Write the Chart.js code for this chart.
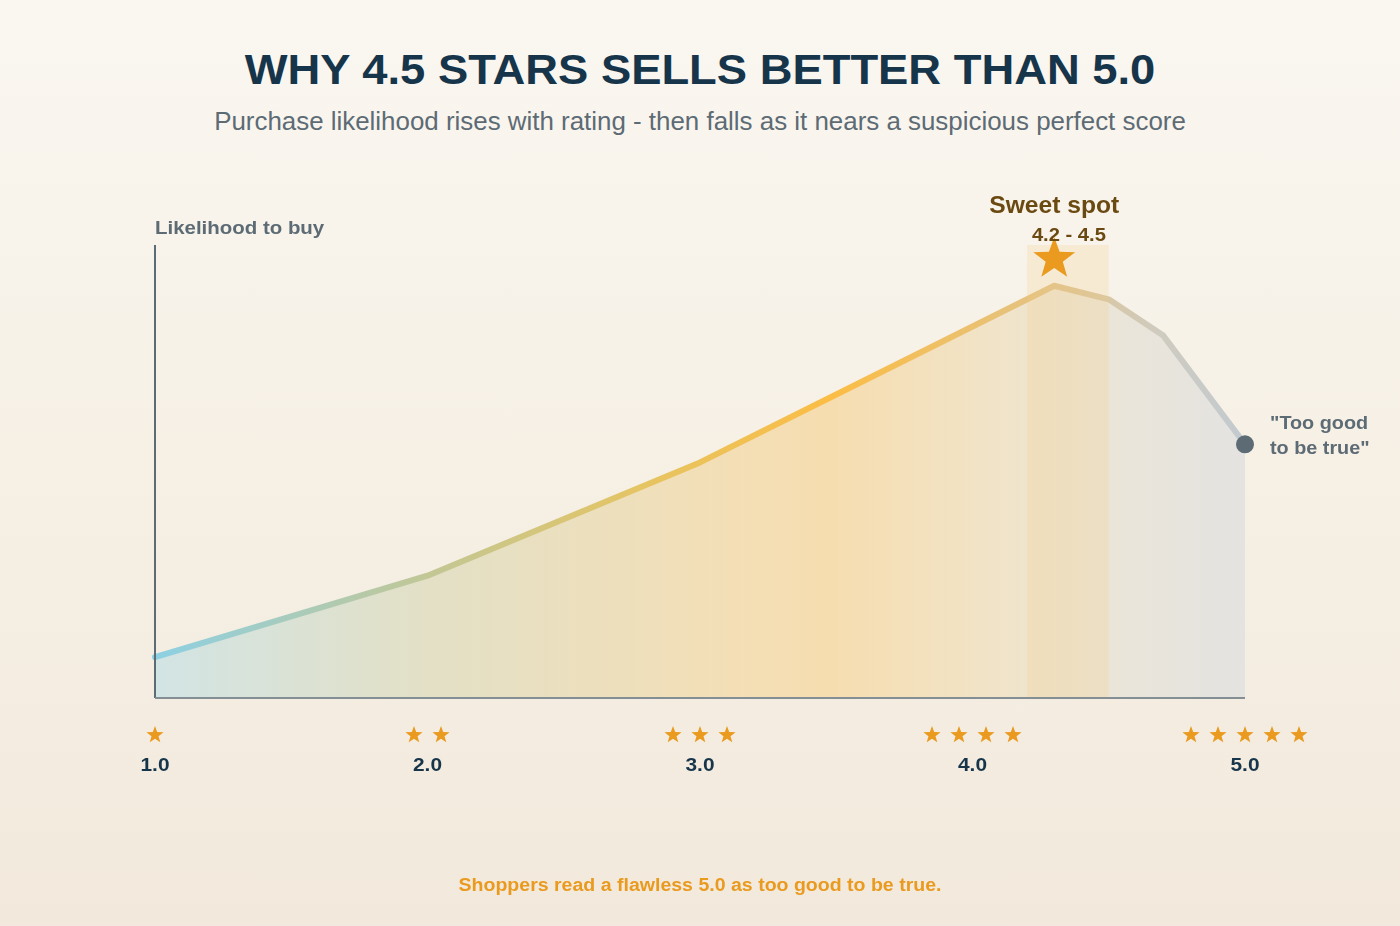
<!DOCTYPE html>
<html>
<head>
<meta charset="utf-8">
<script src="https://cdn.jsdelivr.net/npm/chart.js@4/dist/chart.umd.min.js"></script>
<style>
    html, body {
        margin: 0;
        padding: 0;
        width: 1400px;
        height: 926px;
        overflow: hidden;
        font-family: "Liberation Sans", Arial, sans-serif;
        background: linear-gradient(180deg, #faf7f1 0%, #f6f0e5 50%, #f2e9dc 100%);
    }
    .title, .subtitle, .footer {
        position: absolute;
        left: 0; width: 1400px;
        text-align: center;
        transform-origin: 700px 50%;
    }
    .title {
        top: 45px;
        line-height: 50px;
        font-size: 42px;
        font-weight: bold;
        color: #16354a;
        transform: scaleX(1.08);
    }
    .subtitle {
        top: 105px;
        line-height: 32px;
        font-size: 25px;
        color: #5d6b75;
        transform: scaleX(1.036);
    }
    .footer {
        top: 873px;
        line-height: 24px;
        font-size: 18px;
        font-weight: bold;
        color: #e99a1f;
        transform: scaleX(1.085);
    }
    #ratingChart {
        position: absolute;
        left: 0; top: 0;
    }
</style>
</head>
<body>
<div class="title">WHY 4.5 STARS SELLS BETTER THAN 5.0</div>
<div class="subtitle">Purchase likelihood rises with rating - then falls as it nears a suspicious perfect score</div>
<canvas id="ratingChart" width="1400" height="926"></canvas>
<div class="footer">Shoppers read a flawless 5.0 as too good to be true.</div>

<script>
// Star rating vs. likelihood to buy
const ratings = [1.0, 2.0, 3.0, 3.5, 4.0, 4.3, 4.5, 4.7, 5.0];
const likelihood = [9, 27, 52, 67, 82, 91, 88, 80, 56];
const tickValues = [1, 2, 3, 4, 5];
const tickLabels = ['1.0', '2.0', '3.0', '4.0', '5.0'];
const sweetSpot = [4.2, 4.5];
const peakRating = 4.3;

const FONT = '"Liberation Sans", Arial, sans-serif';

function drawStar(ctx, cx, cy, outer, inner) {
    ctx.beginPath();
    for (let i = 0; i < 10; i++) {
        const r = i % 2 === 0 ? outer : inner;
        const a = -Math.PI / 2 + i * Math.PI / 5;
        const x = cx + r * Math.cos(a);
        const y = cy + r * Math.sin(a);
        if (i === 0) ctx.moveTo(x, y); else ctx.lineTo(x, y);
    }
    ctx.closePath();
    ctx.fill();
}

// the reference type is a bit wider than Liberation Sans, so stretch it around the anchor
function wideText(ctx, text, x, y, stretch) {
    ctx.save();
    ctx.translate(x, y);
    ctx.scale(stretch, 1);
    ctx.fillText(text, 0, 0);
    ctx.restore();
}

function lineGradient(context) {
    const area = context.chart.chartArea;
    if (!area) return '#fbbd45';
    const g = context.chart.ctx.createLinearGradient(area.left, 0, area.right, 0);
    g.addColorStop(0, '#8dd0e3');
    g.addColorStop(0.25, '#c2c795');
    g.addColorStop(0.45, '#e6c462');
    g.addColorStop(0.62, '#fbbd45');
    g.addColorStop(0.8, '#e5c27f');
    g.addColorStop(0.92, '#cfcbbf');
    g.addColorStop(1, '#c2cad0');
    return g;
}

function fillGradient(context) {
    const area = context.chart.chartArea;
    if (!area) return 'rgba(0,0,0,0)';
    const g = context.chart.ctx.createLinearGradient(area.left, 0, area.right, 0);
    g.addColorStop(0, '#d2e4e4');
    g.addColorStop(0.25, '#e3e0c6');
    g.addColorStop(0.5, '#f2dfb8');
    g.addColorStop(0.62, '#f6ddb0');
    g.addColorStop(0.76, '#f1e3c6');
    g.addColorStop(0.87, '#ebe5d8');
    g.addColorStop(1, '#e4e3e1');
    return g;
}

const decorations = {
    id: 'decorations',
    afterDatasetsDraw(chart) {
        const ctx = chart.ctx;
        const area = chart.chartArea;
        const x = chart.scales.x;
        const y = chart.scales.y;
        ctx.save();

        // sweet spot band
        const bx1 = x.getPixelForValue(sweetSpot[0]);
        const bx2 = x.getPixelForValue(sweetSpot[1]);
        ctx.fillStyle = 'rgba(245, 200, 120, 0.2)';
        ctx.fillRect(bx1, area.top, bx2 - bx1, area.bottom - area.top);

        // axes
        ctx.strokeStyle = '#5d6b75';
        ctx.lineWidth = 2;
        ctx.beginPath();
        ctx.moveTo(area.left, area.top);
        ctx.lineTo(area.left, area.bottom);
        ctx.stroke();
        ctx.strokeStyle = '#848f95';
        ctx.beginPath();
        ctx.moveTo(area.left, area.bottom);
        ctx.lineTo(area.right, area.bottom);
        ctx.stroke();

        // big star above the peak
        const px = x.getPixelForValue(peakRating);
        ctx.fillStyle = '#e99a1f';
        drawStar(ctx, px, area.top + 14, 22, 9);

        // sweet spot labels
        ctx.fillStyle = '#6b4a12';
        ctx.textAlign = 'center';
        ctx.textBaseline = 'middle';
        ctx.font = 'bold 23px ' + FONT;
        wideText(ctx, 'Sweet spot', px, area.top - 38, 1.07);
        ctx.font = 'bold 18px ' + FONT;
        wideText(ctx, '4.2 - 4.5', (bx1 + bx2) / 2 + 1, area.top - 9, 1.12);

        // y axis label
        ctx.fillStyle = '#5d6b75';
        ctx.textAlign = 'left';
        ctx.font = 'bold 19px ' + FONT;
        wideText(ctx, 'Likelihood to buy', area.left, area.top - 16, 1.076);

        // end-point annotation
        const lastX = x.getPixelForValue(ratings[ratings.length - 1]);
        const lastY = y.getPixelForValue(likelihood[likelihood.length - 1]);
        ctx.font = 'bold 18px ' + FONT;
        wideText(ctx, '"Too good', lastX + 25, lastY - 20, 1.1);
        wideText(ctx, 'to be true"', lastX + 25, lastY + 5, 1.1);

        // x ticks: stars + value
        tickValues.forEach((v, i) => {
            const cx = x.getPixelForValue(v);
            const spacing = 27;
            const start = cx - (v - 1) * spacing / 2;
            ctx.fillStyle = '#e99a1f';
            for (let s = 0; s < v; s++) {
                drawStar(ctx, start + s * spacing, area.bottom + 37, 9, 3.7);
            }
            ctx.fillStyle = '#16354a';
            ctx.textAlign = 'center';
            ctx.font = 'bold 19px ' + FONT;
            wideText(ctx, tickLabels[i], cx, area.bottom + 68, 1.1);
        });

        ctx.restore();
    }
};

new Chart(document.getElementById('ratingChart'), {
    type: 'line',
    data: {
        datasets: [{
            data: ratings.map((r, i) => ({ x: r, y: likelihood[i] })),
            borderColor: lineGradient,
            backgroundColor: fillGradient,
            borderWidth: 6,
            borderCapStyle: 'round',
            borderJoinStyle: 'round',
            fill: 'start',
            tension: 0,
            clip: false,
            pointRadius: ratings.map((r, i) => i === ratings.length - 1 ? 9 : 0),
            pointBackgroundColor: '#5d6b75',
            pointBorderWidth: 0
        }]
    },
    options: {
        responsive: false,
        animation: false,
        events: [],
        layout: {
            padding: { left: 155, right: 155, top: 245, bottom: 228 }
        },
        plugins: {
            legend: { display: false },
            tooltip: { enabled: false }
        },
        scales: {
            x: { type: 'linear', min: 1, max: 5, display: false },
            y: { min: 0, max: 100, display: false }
        }
    },
    plugins: [decorations]
});
</script>
</body>
</html>
